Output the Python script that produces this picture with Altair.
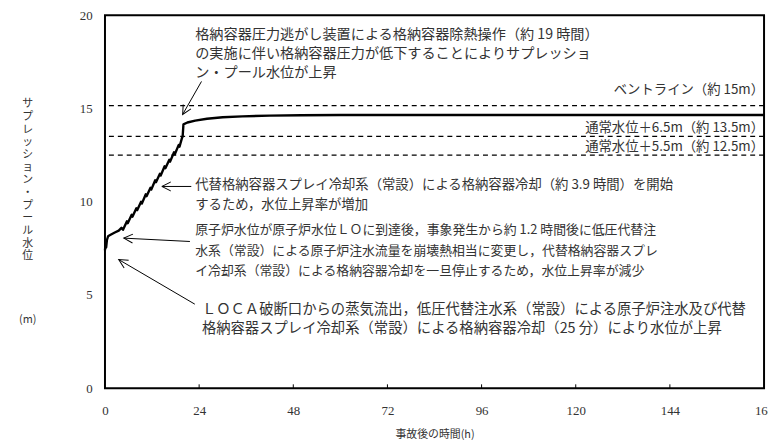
import math
import altair as alt
import pandas as pd

# ---- data ----
hours = [0.0, 0.15, 0.3, 0.5, 0.8, 1.2, 2.5, 3.5, 4.2, 4.6,
         5.6, 5.8, 6.8, 7.0, 8.0, 8.2, 9.2, 9.4, 10.4, 10.6, 11.6, 11.8,
         12.8, 13.0, 14.0, 14.2, 15.2, 15.4, 16.4, 16.6, 17.6, 17.8,
         18.8, 19.0, 19.6, 19.8, 20.0, 21.0, 23.0, 26.0, 30.0, 35.0,
         42.0, 50.0, 60.0, 80.0, 110.0, 140.0, 168.0]
level = [7.4, 7.75, 7.55, 7.95, 8.15, 8.2, 8.35, 8.45, 8.6, 8.5,
         8.95, 8.85, 9.3, 9.2, 9.65, 9.55, 10.0, 9.9, 10.4, 10.3, 10.75, 10.65,
         11.15, 11.05, 11.5, 11.4, 11.9, 11.8, 12.25, 12.15, 12.65, 12.55,
         13.05, 12.95, 13.4, 13.5, 14.15, 14.25, 14.35, 14.45, 14.53, 14.58,
         14.62, 14.64, 14.65, 14.65, 14.65, 14.65, 14.65]

x_ticks = [0, 24, 48, 72, 96, 120, 144, 168]
y_ticks = [0, 5, 10, 15, 20]

ref_levels = [15.15, 13.5, 12.5]
ref_labels = ["ベントライン（約 15m）", "通常水位＋6.5m（約 13.5m）", "通常水位＋5.5m（約 12.5m）"]
ref_label_t = [168.0, 168.0, 168.0]
ref_label_v = [15.97, 13.95, 12.94]

note1 = ["格納容器圧力逃がし装置による格納容器除熱操作（約 19 時間）",
         "の実施に伴い格納容器圧力が低下することによりサプレッショ",
         "ン・プール水位が上昇"]
note1_t = [23.0, 23.0, 23.0]
note1_v = [18.94, 17.93, 16.92]

note2 = ["代替格納容器スプレイ冷却系（常設）による格納容器冷却（約 3.9 時間）を開始",
         "するため，水位上昇率が増加"]
note2_t = [23.0, 23.0]
note2_v = [10.88, 9.81]

note3 = ["原子炉水位が原子炉水位ＬＯに到達後，事象発生から約 1.2 時間後に低圧代替注",
         "水系（常設）による原子炉注水流量を崩壊熱相当に変更し，代替格納容器スプレ",
         "イ冷却系（常設）による格納容器冷却を一旦停止するため，水位上昇率が減少"]
note3_t = [23.0, 23.0, 23.0]
note3_v = [8.49, 7.37, 6.31]

note4 = ["ＬＯＣＡ破断口からの蒸気流出，低圧代替注水系（常設）による原子炉注水及び代替",
         "格納容器スプレイ冷却系（常設）による格納容器冷却（25 分）により水位が上昇"]
note4_t = [24.7, 24.7]
note4_v = [4.19, 3.18]

# arrows: start (t, v) -> tip (t, v)
arrow_t0 = [24.6, 22.0, 21.65, 22.9]
arrow_v0 = [16.45, 10.82, 7.87, 4.51]
arrow_t1 = [19.8, 14.5, 4.8, 3.5]
arrow_v1 = [14.68, 10.82, 8.05, 6.9]

# vertical y-axis title: one character per line, blank lines before the unit
y_title = ["サ", "プ", "レ", "ッ", "シ", "ョ", "ン", "・", "プ", "ー", "ル", "水", "位",
           "", "", "", "", "(m)"]

# ---- layout ----
W, H = 666, 377
XMAX, YMAX = 168, 20
pxx, pxy = W / XMAX, H / YMAX
JP = "Noto Sans CJK JP"
SERIF = "Liberation Serif"
TXT = "#333333"
YT_X, YT_Y0, YT_STEP = -78, 90, 12.8

xs = alt.Scale(domain=[0, XMAX], nice=False, zero=False)
ys = alt.Scale(domain=[0, YMAX], nice=False, zero=False)

df = pd.DataFrame({"t": hours, "v": level})

line = alt.Chart(df).mark_line(color="black", strokeWidth=2.4, strokeJoin="round").encode(
    x=alt.X("t:Q", scale=xs, axis=alt.Axis(
        values=x_ticks, title="事故後の時間(h)", titleFont=JP, titleFontSize=11,
        titleFontWeight="normal", titleColor=TXT, titleY=47, titleBaseline="middle",
        labelFont=SERIF, labelFontSize=13, labelColor=TXT, labelPadding=16,
        labelFlush=False, ticks=False, domain=False, grid=False)),
    y=alt.Y("v:Q", scale=ys, axis=alt.Axis(
        values=y_ticks, title="",
        labelFont=SERIF, labelFontSize=13, labelColor=TXT, labelPadding=13,
        ticks=False, domain=False, grid=False)),
)

yt_df = pd.DataFrame({"ch": y_title,
                      "py": [YT_Y0 + i * YT_STEP for i in range(len(y_title))]})
yt_df = yt_df[yt_df["ch"] != ""]
ytitle = alt.Chart(yt_df).mark_text(
    align="center", baseline="middle", font=JP, fontSize=11, color=TXT).encode(
    x=alt.value(YT_X), y=alt.Y("py:Q", scale=None), text="ch:N")

ref_df = pd.DataFrame({"v": ref_levels})
refs = alt.Chart(ref_df).mark_rule(color="black", strokeWidth=1.2, strokeDash=[5, 4]).encode(
    y=alt.Y("v:Q", scale=ys))

reflab_df = pd.DataFrame({"t": ref_label_t, "v": ref_label_v, "label": ref_labels})
reflab = alt.Chart(reflab_df).mark_text(align="right", baseline="middle", font=JP,
                                        fontSize=13.5, color=TXT).encode(
    x=alt.X("t:Q", scale=xs), y=alt.Y("v:Q", scale=ys), text="label:N")

tick_df = pd.DataFrame({"t": x_ticks[1:-1]})
ticks = alt.Chart(tick_df).mark_rule(color="black", strokeWidth=1).encode(
    x=alt.X("t:Q", scale=xs), y=alt.value(H), y2=alt.value(H - 4))


def note_layer(lines, ts, vs, size):
    d = pd.DataFrame({"t": ts, "v": vs, "label": lines})
    return alt.Chart(d).mark_text(align="left", baseline="middle", font=JP,
                                  fontSize=size, color=TXT).encode(
        x=alt.X("t:Q", scale=xs), y=alt.Y("v:Q", scale=ys), text="label:N")


notes = [note_layer(note1, note1_t, note1_v, 14.3),
         note_layer(note2, note2_t, note2_v, 13.5),
         note_layer(note3, note3_t, note3_v, 13.0),
         note_layer(note4, note4_t, note4_v, 14.5)]

angles = []
for a0, b0, a1, b1 in zip(arrow_t0, arrow_v0, arrow_t1, arrow_v1):
    dx = (a1 - a0) * pxx
    dy = -(b1 - b0) * pxy
    angles.append(math.degrees(math.atan2(dy, dx)) % 360)

arr_df = pd.DataFrame({"t": arrow_t0, "v": arrow_v0, "t2": arrow_t1, "v2": arrow_v1,
                       "ang": angles})
shafts = alt.Chart(arr_df).mark_rule(color="black", strokeWidth=1).encode(
    x=alt.X("t:Q", scale=xs), y=alt.Y("v:Q", scale=ys), x2="t2:Q", y2="v2:Q")
heads = alt.Chart(arr_df).mark_point(
    shape="M-1,-0.5L0,0L-1,0.5", size=324, filled=False, stroke="black",
    strokeWidth=1, opacity=1).encode(
    x=alt.X("t2:Q", scale=xs), y=alt.Y("v2:Q", scale=ys),
    angle=alt.Angle("ang:Q", scale=None))

chart = alt.layer(refs, ticks, shafts, heads, line, reflab, *notes, ytitle).properties(
    width=W, height=H,
    autosize=alt.AutoSizeParams(type="none"),
    padding={"left": 98, "top": 5, "right": 4, "bottom": 54},
    background="white",
).configure_view(stroke="black", strokeWidth=2)

chart.save("out.html", embed_options={"renderer": "svg", "actions": False})
